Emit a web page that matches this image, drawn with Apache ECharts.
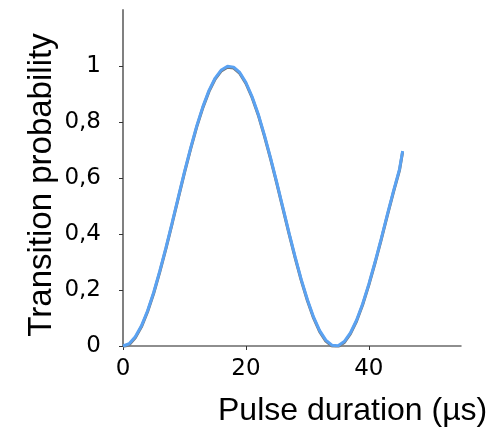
<!DOCTYPE html>
<html>
<head>
<meta charset="utf-8">
<script src="https://cdn.jsdelivr.net/npm/echarts@6/dist/echarts.min.js"></script>
<style>
html,body{margin:0;padding:0;background:#fff;}
#chart{width:504px;height:436px;}
</style>
</head>
<body>
<div id="chart"></div>
<script>
// Pulse duration (µs) and transition probability
const pulseDuration = [0,1,2,3,4,5,6,7,8,9,10,11,12,13,14,15,16,17,18,19,20,21,22,23,24,25,26,27,28,29,30,31,32,33,34,35,36,37,38,39,40,41,42,43,44,45,45.5];
const probability = [0,0.008,0.033,0.072,0.126,0.192,0.269,0.352,0.441,0.532,0.622,0.707,0.786,0.855,0.913,0.957,0.986,0.999,0.996,0.977,0.941,0.891,0.829,0.754,0.673,0.586,0.496,0.406,0.319,0.238,0.166,0.104,0.055,0.021,0.003,0.001,0.016,0.047,0.092,0.151,0.221,0.299,0.382,0.468,0.552,0.632,0.696];
const xTicks = [0,20,40];
const yTicks = [0,0.2,0.4,0.6,0.8,1];
const xTitle = 'Pulse duration (µs)';
const yTitle = 'Transition probability';

const chart = echarts.init(document.getElementById('chart'), null, {renderer:'canvas'});
const option = {
  animation:false,
  backgroundColor:'#ffffff',
  grid:{left:123, right:43, top:10, bottom:90, containLabel:false},
  xAxis:{
    type:'value', min:0, max:55,
    axisLine:{show:true, lineStyle:{color:'#6a6a6a', width:1.5}},
    axisTick:{show:true, length:4, customValues:xTicks, lineStyle:{color:'#333', width:1}},
    axisLabel:{customValues:xTicks, margin:12, color:'#000', fontFamily:'DejaVu Sans', fontSize:23},
    splitLine:{show:false}
  },
  yAxis:{
    type:'value', min:0, max:1.2, offset:2,
    axisLine:{show:true, lineStyle:{color:'#808080', width:2}},
    axisTick:{show:true, length:4, customValues:yTicks, lineStyle:{color:'#333', width:1}},
    axisLabel:{customValues:yTicks, margin:20, color:'#000', fontFamily:'DejaVu Sans', fontSize:23,
      formatter:v=>String(v).replace('.',',')},
    splitLine:{show:false}
  },
  graphic:[{
    type:'text', left:218, top:395,
    style:{text:xTitle, fill:'#000', font:'32px "Liberation Sans"'}
  },{
    type:'text', x:42, y:185, rotation:Math.PI/2,
    style:{text:yTitle, fill:'#000', font:'33px "Liberation Sans"', align:'center', verticalAlign:'middle'}
  }],
  series:[{
    type:'line',
    data:pulseDuration.map((x,i)=>[x,probability[i]]),
    smooth:false, showSymbol:false,
    lineStyle:{color:'#5aa2f2', width:3, shadowColor:'#777', shadowOffsetY:1, shadowBlur:0}
  }]
};
chart.setOption(option);
</script>
</body>
</html>
